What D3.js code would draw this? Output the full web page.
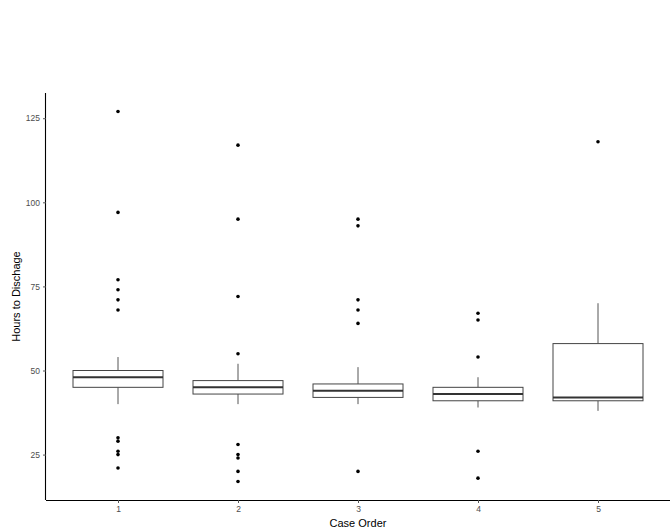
<!DOCTYPE html>
<html>
<head>
<meta charset="utf-8">
<script src="https://cdn.jsdelivr.net/npm/d3@7"></script>
<style>
  html, body { margin: 0; padding: 0; background: #fff; }
  svg { display: block; }
</style>
</head>
<body>
<svg id="chart" width="670" height="532"></svg>
<script>
const categories = ["1", "2", "3", "4", "5"];
const q1 = [45, 43, 42, 41, 41];
const medians = [48, 45, 44, 43, 42];
const q3 = [50, 47, 46, 45, 58];
const whiskerLow = [40, 40, 40, 39, 38];
const whiskerHigh = [54, 52, 51, 48, 70];
const outliers = [
  [127, 97, 77, 74, 71, 68, 30, 29, 26, 25, 21],
  [117, 95, 72, 55, 28, 25, 24, 20, 17],
  [95, 93, 71, 68, 64, 20],
  [67, 65, 54, 26, 18],
  [118]
];
const yTicks = [25, 50, 75, 100, 125];

const svg = d3.select("#chart");
const margin = { top: 93, right: 0, bottom: 32, left: 46 };
const W = 670, H = 532;
const innerW = W - margin.left - margin.right;
const innerH = H - margin.top - margin.bottom;

const g = svg.append("g").attr("transform", `translate(${margin.left},${margin.top})`);

const x = d3.scalePoint().domain(categories).range([0, innerW]).padding(0.6);
const step = x.step();
const yMin = 17, yMax = 127, pad = (yMax - yMin) * 0.05;
const y = d3.scaleLinear().domain([yMin - pad, yMax + pad]).range([innerH, 0]);

const boxW = step * 0.75;

const data = categories.map((c, i) => ({
  c, q1: q1[i], med: medians[i], q3: q3[i], lo: whiskerLow[i], hi: whiskerHigh[i], out: outliers[i]
}));

const boxes = g.selectAll("g.box").data(data).enter().append("g").attr("class", "box");

boxes.append("line")
  .attr("x1", d => x(d.c)).attr("x2", d => x(d.c))
  .attr("y1", d => y(d.hi)).attr("y2", d => y(d.q3))
  .attr("stroke", "#555").attr("stroke-width", 1);
boxes.append("line")
  .attr("x1", d => x(d.c)).attr("x2", d => x(d.c))
  .attr("y1", d => y(d.q1)).attr("y2", d => y(d.lo))
  .attr("stroke", "#555").attr("stroke-width", 1);
boxes.append("rect")
  .attr("x", d => x(d.c) - boxW / 2).attr("width", boxW)
  .attr("y", d => y(d.q3)).attr("height", d => y(d.q1) - y(d.q3))
  .attr("fill", "#fff").attr("stroke", "#444").attr("stroke-width", 1);
boxes.append("line")
  .attr("x1", d => x(d.c) - boxW / 2).attr("x2", d => x(d.c) + boxW / 2)
  .attr("y1", d => y(d.med)).attr("y2", d => y(d.med))
  .attr("stroke", "#333").attr("stroke-width", 2);

boxes.selectAll("circle").data(d => d.out.map(v => ({ c: d.c, v }))).enter().append("circle")
  .attr("cx", d => x(d.c)).attr("cy", d => y(d.v)).attr("r", 1.8).attr("fill", "#000");

// axes
const font = "Liberation Sans, Arial, sans-serif";
const yAxis = g.append("g").call(d3.axisLeft(y).tickValues(yTicks).tickSize(3).tickPadding(3));
const xAxis = g.append("g").attr("transform", `translate(0,${innerH})`)
  .call(d3.axisBottom(x).tickSize(3).tickPadding(3));
[yAxis, xAxis].forEach(a => {
  a.select(".domain").attr("stroke", "#000").attr("stroke-width", 1.1);
  a.selectAll(".tick line").attr("stroke", "#555");
  a.selectAll(".tick text").attr("fill", "#4d4d4d").attr("font-size", 8.5).attr("font-family", font);
});
xAxis.select(".domain").attr("d", `M0,0.5H${innerW}`);
yAxis.select(".domain").attr("d", `M-0.5,0V${innerH}`);

svg.append("text")
  .attr("x", margin.left + innerW / 2).attr("y", 527)
  .attr("text-anchor", "middle").attr("font-family", font).attr("font-size", 11).attr("fill", "#000")
  .text("Case Order");
svg.append("text")
  .attr("transform", `translate(20,${margin.top + innerH / 2}) rotate(-90)`)
  .attr("text-anchor", "middle").attr("font-family", font).attr("font-size", 11).attr("fill", "#000")
  .text("Hours to Dischage");
</script>
</body>
</html>
